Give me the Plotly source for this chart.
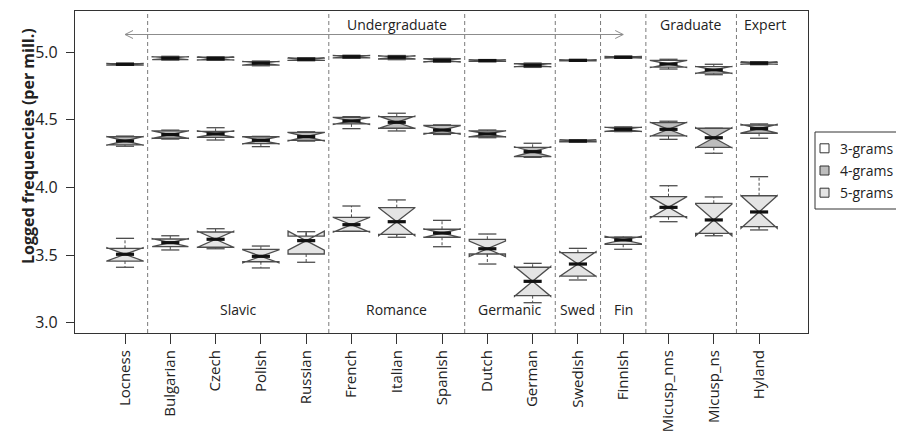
import plotly.graph_objects as go

categories = ["Locness", "Bulgarian", "Czech", "Polish", "Russian", "French", "Italian",
              "Spanish", "Dutch", "German", "Swedish", "Finnish", "Micusp_nns", "Micusp_ns", "Hyland"]

# 3-grams
med3 = [4.911, 4.956, 4.953, 4.919, 4.948, 4.967, 4.963, 4.940, 4.938, 4.904, 4.940, 4.963, 4.913, 4.869, 4.919]
q1_3 = [4.905, 4.945, 4.943, 4.905, 4.940, 4.958, 4.950, 4.930, 4.933, 4.893, 4.936, 4.958, 4.890, 4.845, 4.912]
q3_3 = [4.916, 4.966, 4.963, 4.930, 4.956, 4.975, 4.972, 4.952, 4.943, 4.915, 4.944, 4.968, 4.940, 4.894, 4.926]
lo3 = [4.903, 4.942, 4.940, 4.900, 4.937, 4.955, 4.945, 4.926, 4.930, 4.888, 4.934, 4.955, 4.876, 4.834, 4.908]
hi3 = [4.919, 4.970, 4.967, 4.935, 4.959, 4.978, 4.976, 4.955, 4.946, 4.920, 4.946, 4.971, 4.948, 4.911, 4.930]

# 4-grams
med4 = [4.344, 4.391, 4.396, 4.349, 4.376, 4.492, 4.482, 4.425, 4.396, 4.265, 4.344, 4.430, 4.430, 4.368, 4.435]
q1_4 = [4.315, 4.364, 4.370, 4.325, 4.349, 4.470, 4.438, 4.400, 4.375, 4.228, 4.338, 4.415, 4.381, 4.297, 4.401]
q3_4 = [4.375, 4.418, 4.415, 4.375, 4.408, 4.519, 4.524, 4.460, 4.418, 4.297, 4.350, 4.445, 4.479, 4.438, 4.462]
lo4 = [4.305, 4.358, 4.351, 4.302, 4.343, 4.435, 4.418, 4.392, 4.368, 4.223, 4.336, 4.413, 4.356, 4.253, 4.364]
hi4 = [4.380, 4.424, 4.442, 4.378, 4.412, 4.524, 4.549, 4.463, 4.425, 4.327, 4.352, 4.448, 4.490, 4.438, 4.470]

# 5-grams
med5 = [3.506, 3.592, 3.617, 3.491, 3.607, 3.725, 3.747, 3.663, 3.547, 3.306, 3.434, 3.612, 3.853, 3.760, 3.819]
q1_5 = [3.456, 3.562, 3.558, 3.451, 3.508, 3.676, 3.654, 3.632, 3.508, 3.200, 3.345, 3.580, 3.784, 3.661, 3.710]
q3_5 = [3.550, 3.619, 3.671, 3.543, 3.641, 3.779, 3.851, 3.691, 3.617, 3.410, 3.518, 3.632, 3.932, 3.883, 3.939]
lo5 = [3.410, 3.538, 3.547, 3.405, 3.447, 3.676, 3.632, 3.562, 3.434, 3.148, 3.316, 3.543, 3.747, 3.643, 3.686]
hi5 = [3.624, 3.643, 3.695, 3.567, 3.673, 3.863, 3.908, 3.757, 3.656, 3.439, 3.550, 3.632, 4.013, 3.930, 4.080]

# texts per corpus (approximate sample sizes used for notch width, as in R: 1.58*IQR/sqrt(n))
n_texts = [9, 9, 9, 9, 9, 9, 9, 9, 9, 9, 9, 9, 9, 9, 9]

series_names = ["3-grams", "4-grams", "5-grams"]
series_fill = ["#ffffff", "#bdbdbd", "#e4e4e4"]

separators = [0.5, 4.5, 7.5, 9.5, 10.5, 11.5, 13.5]
top_labels = [("Undergraduate", 6), ("Graduate", 12.5), ("Expert", 14.13)]
bottom_labels = [("Slavic", 2.5), ("Romance", 6), ("Germanic", 8.5), ("Swed", 10), ("Fin", 11)]
arrow_span = (0, 11)

FONT = "Open Sans"
OFF = 8                      # page body margin of the html page
W, H = 904 - OFF, 443 - OFF
ML, MR, MT, MB = 75 - OFF, 96, 11 - OFF, 110
PW, PH = W - ML - MR, H - MT - MB
BOX_W = 0.8
EDGE = "#4d4d4d"


def px2x(px):
    return (px - OFF - ML) / PW


def px2y(py):
    return (H - MB - (py - OFF)) / PH


xs = list(range(len(categories)))
fig = go.Figure()

stats = [(med3, q1_3, q3_3, lo3, hi3), (med4, q1_4, q3_4, lo4, hi4), (med5, q1_5, q3_5, lo5, hi5)]
for name, fill, (md, a, b, lo, hi) in zip(series_names, series_fill, stats):
    # dashed whisker stems and solid staples (R style)
    sx, sy, cx, cy = [], [], [], []
    for i, qa, qb, l, h in zip(xs, a, b, lo, hi):
        sx += [i, i, None, i, i, None]
        sy += [qb, h, None, qa, l, None]
        cx += [i - BOX_W / 4, i + BOX_W / 4, None, i - BOX_W / 4, i + BOX_W / 4, None]
        cy += [h, h, None, l, l, None]
    fig.add_trace(go.Scatter(x=sx, y=sy, mode="lines", line=dict(color=EDGE, width=1, dash="3px,2px"),
                             showlegend=False, hoverinfo="skip"))
    fig.add_trace(go.Scatter(x=cx, y=cy, mode="lines", line=dict(color=EDGE, width=1.3),
                             showlegend=False, hoverinfo="skip"))
    notch = [1.58 * (qb - qa) / (n ** 0.5) for qa, qb, n in zip(a, b, n_texts)]
    fig.add_trace(go.Box(
        x=xs, median=md, q1=a, q3=b, lowerfence=a, upperfence=b,
        notchspan=notch, notched=True, notchwidth=0.5, width=BOX_W,
        whiskerwidth=0, fillcolor=fill, line=dict(color=EDGE, width=1.3),
        name=name, showlegend=False, boxpoints=False, hoverinfo="skip"))

for md in (med3, med4, med5):
    mx, my = [], []
    for i, m in zip(xs, md):
        mx += [i - BOX_W / 4, i + BOX_W / 4, None]
        my += [m, m, None]
    fig.add_trace(go.Scatter(x=mx, y=my, mode="lines", line=dict(color="#111111", width=3.2),
                             showlegend=False, hoverinfo="skip"))

shapes = []
for s in separators:
    shapes.append(dict(type="line", xref="x", yref="paper", x0=s, x1=s, y0=0, y1=1,
                       line=dict(color="#7a7a7a", width=1, dash="4px,3px"), layer="below"))
# arrow line
ay = px2y(34.5)
shapes.append(dict(type="line", xref="x", yref="paper", x0=arrow_span[0], x1=arrow_span[1],
                   y0=ay, y1=ay, line=dict(color="#8c8c8c", width=1)))
shapes.append(dict(type="path", xref="x", yref="paper", xsizemode="pixel", ysizemode="pixel",
                   xanchor=arrow_span[0], yanchor=ay, path="M 8 4 L 0 0 L 8 -4",
                   line=dict(color="#8c8c8c", width=1)))
shapes.append(dict(type="path", xref="x", yref="paper", xsizemode="pixel", ysizemode="pixel",
                   xanchor=arrow_span[1], yanchor=ay, path="M -8 4 L 0 0 L -8 -4",
                   line=dict(color="#8c8c8c", width=1)))

annotations = []
for txt, xpos in top_labels:
    annotations.append(dict(text=txt, x=xpos, y=px2y(25), xref="x", yref="paper", showarrow=False,
                            font=dict(family=FONT, size=14, color="#222222"), yanchor="middle"))
for txt, xpos in bottom_labels:
    annotations.append(dict(text=txt, x=xpos, y=px2y(309), xref="x", yref="paper", showarrow=False,
                            font=dict(family=FONT, size=14, color="#222222"), yanchor="middle"))

# y-axis title
annotations.append(dict(text="<b>Logged frequencies (per mill.)</b>", x=px2x(28), y=px2y(146),
                        xref="paper", yref="paper", showarrow=False, textangle=-90,
                        font=dict(family=FONT, size=16, color="#222222"),
                        xanchor="center", yanchor="middle"))

# legend (drawn box)
shapes.append(dict(type="rect", xref="paper", yref="paper", x0=px2x(815), x1=px2x(903),
                   y0=px2y(209), y1=px2y(132), line=dict(color="#333333", width=1),
                   fillcolor="white"))
for k, (name, fill) in enumerate(zip(series_names, series_fill)):
    cyl = 148.3 + 22.2 * k
    shapes.append(dict(type="rect", xref="paper", yref="paper", x0=px2x(820), x1=px2x(829),
                       y0=px2y(cyl + 4.5), y1=px2y(cyl - 4.5), line=dict(color="#333333", width=1),
                       fillcolor=fill))
    annotations.append(dict(text=name, x=px2x(838), y=px2y(cyl), xref="paper", yref="paper",
                            showarrow=False, xanchor="left", yanchor="middle",
                            font=dict(family=FONT, size=14, color="#222222")))

fig.update_layout(
    width=W, height=H,
    margin=dict(l=ML, r=MR, t=MT, b=MB, autoexpand=False),
    paper_bgcolor="white", plot_bgcolor="white",
    boxmode="overlay", showlegend=False,
    font=dict(family=FONT, size=14, color="#222222"),
    shapes=shapes, annotations=annotations,
    xaxis=dict(range=[-1.104, 15.08], tickmode="array", tickvals=xs, ticktext=categories,
               tickangle=-90, ticks="outside", ticklen=10, tickcolor="#333333",
               showline=True, linecolor="#333333", linewidth=1.3, mirror=True,
               showgrid=False, zeroline=False, tickfont=dict(size=15)),
    yaxis=dict(range=[2.924, 5.305], tickvals=[3.0, 3.5, 4.0, 4.5, 5.0], tickformat=".1f",
               ticks="outside", ticklen=8, tickcolor="#333333",
               showline=True, linecolor="#333333", linewidth=1.3, mirror=True,
               showgrid=False, zeroline=False, tickfont=dict(size=16), ticklabelstandoff=5),
)

fig.write_html("out.html")
